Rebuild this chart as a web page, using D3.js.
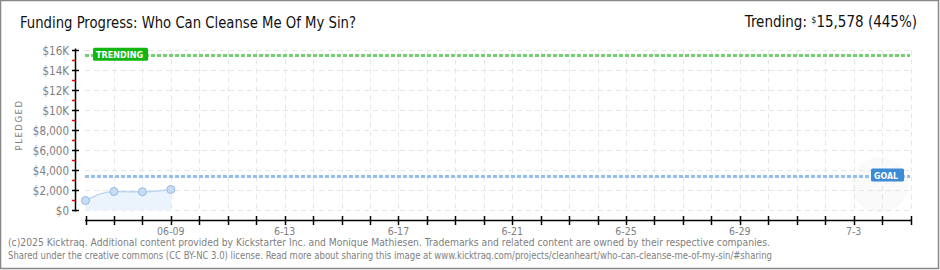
<!DOCTYPE html>
<html>
<head>
<meta charset="utf-8">
<script src="https://cdn.jsdelivr.net/npm/d3@7"></script>
<style>
  body { margin: 0; background: #fff; }
  svg text { font-family: "DejaVu Sans Condensed", "DejaVu Sans", sans-serif; }
</style>
</head>
<body>
<div id="chart"></div>
<script>
// pledged totals per day
var dates = ["2025-06-06", "2025-06-07", "2025-06-08", "2025-06-09"];
var pledged = [1000, 1900, 1870, 2100];
var goal = 3500;
var trending = 15578;
var yTicks = [0, 2000, 4000, 6000, 8000, 10000, 12000, 14000, 16000];
var yTickLabels = ["$0", "$2,000", "$4,000", "$6,000", "$8,000", "$10K", "$12K", "$14K", "$16K"];
var xLabelDates = ["2025-06-09", "2025-06-13", "2025-06-17", "2025-06-21", "2025-06-25", "2025-06-29", "2025-07-03"];
var xLabels = ["06-09", "6-13", "6-17", "6-21", "6-25", "6-29", "7-3"];

var W = 940, H = 270;
var parse = d3.timeParse("%Y-%m-%d");

var svg = d3.select("#chart").append("svg")
    .attr("width", W)
    .attr("height", H);

// frame
svg.append("rect")
    .attr("x", 0.5).attr("y", 0.5)
    .attr("width", W - 2).attr("height", H - 2)
    .attr("fill", "#fff")
    .attr("stroke", "#888")
    .attr("stroke-width", 1.5);

var x = d3.scaleTime()
    .domain([parse("2025-06-06"), parse("2025-07-05")])
    .range([85.5, 910.5]);
var y = d3.scaleLinear()
    .domain([0, 16000])
    .range([210.5, 50.5]);

// faint watermark blob
svg.append("circle")
    .attr("cx", 880).attr("cy", 185).attr("r", 28)
    .attr("fill", "#fafafa");

var days = d3.timeDay.range(parse("2025-06-06"), d3.timeDay.offset(parse("2025-07-05"), 1));

// grid
svg.append("g").selectAll("line")
    .data(days.slice(1))
    .enter().append("line")
    .attr("x1", function(d) { return Math.round(x(d)) + 0.5; })
    .attr("x2", function(d) { return Math.round(x(d)) + 0.5; })
    .attr("y1", y(16000)).attr("y2", y(0))
    .attr("stroke", "#e6e6e6")
    .attr("stroke-dasharray", "5,4");

svg.append("g").selectAll("line")
    .data(yTicks)
    .enter().append("line")
    .attr("x1", 85).attr("x2", 910)
    .attr("y1", function(d) { return y(d); })
    .attr("y2", function(d) { return y(d); })
    .attr("stroke", "#e6e6e6")
    .attr("stroke-dasharray", "5,4");

// area + line
var pts = dates.map(function(d, i) { return { date: parse(d), value: pledged[i] }; });

svg.append("path")
    .datum(pts)
    .attr("fill", "#ebf3fc")
    .attr("d", d3.area()
        .x(function(d) { return x(d.date); })
        .y0(y(0))
        .y1(function(d) { return y(d.value); }));

svg.append("path")
    .datum(pts)
    .attr("fill", "none")
    .attr("stroke", "#bcd6f2")
    .attr("stroke-width", 1.5)
    .attr("d", d3.line()
        .curve(d3.curveMonotoneX)
        .x(function(d) { return x(d.date); })
        .y(function(d) { return y(d.value); }));

// goal + trending lines
svg.append("line")
    .attr("x1", 85).attr("x2", 910)
    .attr("y1", Math.round(y(goal)) + 0.5).attr("y2", Math.round(y(goal)) + 0.5)
    .attr("stroke", "#95bfea")
    .attr("stroke-width", 3)
    .attr("stroke-dasharray", "4,2");

svg.append("line")
    .attr("x1", 85).attr("x2", 910)
    .attr("y1", Math.round(y(trending)) + 0.5).attr("y2", Math.round(y(trending)) + 0.5)
    .attr("stroke", "#74d070")
    .attr("stroke-width", 3)
    .attr("stroke-dasharray", "4,2");

svg.selectAll("circle.pt")
    .data(pts)
    .enter().append("circle")
    .attr("class", "pt")
    .attr("cx", function(d) { return x(d.date); })
    .attr("cy", function(d) { return y(d.value); })
    .attr("r", 4)
    .attr("fill", "#c7ddf6")
    .attr("stroke", "#98b9de")
    .attr("stroke-width", 1);

// labels on the lines
svg.append("rect")
    .attr("x", 93).attr("y", y(trending) - 7)
    .attr("width", 55).attr("height", 13).attr("rx", 1.5)
    .attr("fill", "#13b512");
svg.append("text")
    .attr("x", 96).attr("y", y(trending) + 3.5)
    .attr("font-size", 9.5).attr("font-weight", "bold")
    .attr("textLength", 47).attr("lengthAdjust", "spacingAndGlyphs")
    .attr("fill", "#fff")
    .text("TRENDING");

svg.append("rect")
    .attr("x", 871).attr("y", y(goal) - 7)
    .attr("width", 33).attr("height", 13).attr("rx", 1.5)
    .attr("fill", "#3d8bd6");
svg.append("text")
    .attr("x", 874).attr("y", y(goal) + 3.5)
    .attr("font-size", 9.5).attr("font-weight", "bold")
    .attr("textLength", 24).attr("lengthAdjust", "spacingAndGlyphs")
    .attr("fill", "#fff")
    .text("GOAL");

// y axis
var yAxis = svg.append("g");
yAxis.append("line")
    .attr("x1", 75.5).attr("x2", 75.5)
    .attr("y1", y(16000) - 2).attr("y2", y(0) + 1)
    .attr("stroke", "#000").attr("stroke-width", 1.5);
yAxis.selectAll("line.maj")
    .data(yTicks)
    .enter().append("line")
    .attr("class", "maj")
    .attr("x1", 72).attr("x2", 79)
    .attr("y1", function(d) { return y(d); })
    .attr("y2", function(d) { return y(d); })
    .attr("stroke", "#000").attr("stroke-width", 1.5);
yAxis.selectAll("line.min")
    .data(d3.range(1000, 16000, 2000))
    .enter().append("line")
    .attr("class", "min")
    .attr("x1", 72).attr("x2", 75.5)
    .attr("y1", function(d) { return y(d); })
    .attr("y2", function(d) { return y(d); })
    .attr("stroke", "#e00").attr("stroke-width", 1.5);
yAxis.selectAll("text")
    .data(yTicks)
    .enter().append("text")
    .attr("x", 69)
    .attr("y", function(d) { return y(d) + 4; })
    .attr("text-anchor", "end")
    .attr("font-size", 11.5)
    .attr("fill", "#808080")
    .text(function(d, i) { return yTickLabels[i]; });

svg.append("text")
    .attr("transform", "translate(22,125) rotate(-90)")
    .attr("text-anchor", "middle")
    .attr("font-size", 9.5)
    .attr("letter-spacing", 1.5)
    .attr("fill", "#808080")
    .text("PLEDGED");

// x axis
var xAxis = svg.append("g");
xAxis.append("line")
    .attr("x1", 85).attr("x2", 911)
    .attr("y1", 220.5).attr("y2", 220.5)
    .attr("stroke", "#000").attr("stroke-width", 1.5);
xAxis.selectAll("line.tk")
    .data(days)
    .enter().append("line")
    .attr("class", "tk")
    .attr("x1", function(d) { return Math.round(x(d)) + 0.5; })
    .attr("x2", function(d) { return Math.round(x(d)) + 0.5; })
    .attr("y1", 216).attr("y2", 225)
    .attr("stroke", "#000").attr("stroke-width", 1.5);
xAxis.selectAll("text")
    .data(xLabelDates)
    .enter().append("text")
    .attr("x", function(d) { return x(parse(d)); })
    .attr("y", 235)
    .attr("text-anchor", "middle")
    .attr("font-size", 10.5)
    .attr("fill", "#808080")
    .text(function(d, i) { return xLabels[i]; });

// title
svg.append("text")
    .attr("x", 20).attr("y", 28)
    .attr("font-size", 16)
    .attr("textLength", 336).attr("lengthAdjust", "spacingAndGlyphs")
    .attr("fill", "#111")
    .text("Funding Progress: Who Can Cleanse Me Of My Sin?");

var tr = svg.append("text")
    .attr("x", 917).attr("y", 27)
    .attr("text-anchor", "end")
    .attr("font-size", 15)
    .attr("fill", "#111");
tr.append("tspan").text("Trending:  ");
tr.append("tspan").attr("font-size", 9).attr("dy", -4).text("$");
tr.append("tspan").attr("dy", 4).text("15,578 (445%)");

// footer
svg.append("text")
    .attr("x", 8).attr("y", 246)
    .attr("font-size", 10)
    .attr("textLength", 762).attr("lengthAdjust", "spacingAndGlyphs")
    .attr("fill", "#808080")
    .text("(c)2025 Kicktraq. Additional content provided by Kickstarter Inc. and Monique Mathiesen. Trademarks and related content are owned by their respective companies.");
svg.append("text")
    .attr("x", 8).attr("y", 259)
    .attr("font-size", 10)
    .attr("textLength", 764).attr("lengthAdjust", "spacingAndGlyphs")
    .attr("fill", "#808080")
    .text("Shared under the creative commons (CC BY-NC 3.0) license. Read more about sharing this image at www.kicktraq.com/projects/cleanheart/who-can-cleanse-me-of-my-sin/#sharing");
</script>
</body>
</html>
